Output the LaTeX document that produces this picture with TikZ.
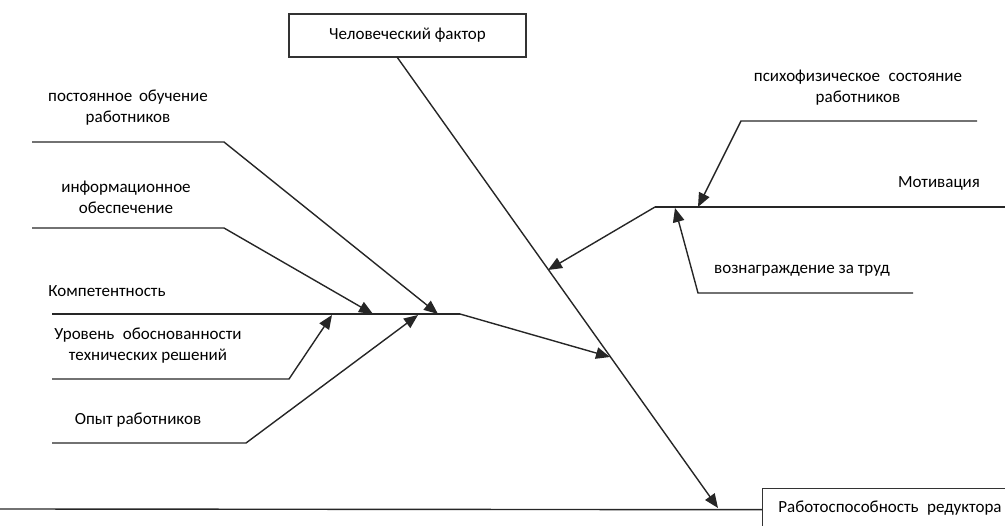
\documentclass[tikz,border=0pt]{standalone}
\usepackage{fontspec}
\setmainfont{Carlito}
\usetikzlibrary{arrows.meta}
\begin{document}
\begin{tikzpicture}[x=1pt,y=-1pt,
  line/.style={line width=1.4pt, draw=black!85},
  arr/.style={line, -{Triangle[length=14pt,width=11.5pt]}},
  lbl/.style={font=\fontsize{17}{21}\selectfont, inner sep=0pt, align=center},
  boxnode/.style={draw=black!80, line width=1.4pt, inner sep=0pt}]
\useasboundingbox (0,0) rectangle (1005,526);
\clip (0,0) rectangle (1005,526);

% head and effect boxes
\node[boxnode, lbl, minimum width=237pt, minimum height=43pt] (hf) at (407.5,35.5) {Человеческий фактор};
\node[boxnode, anchor=north west, minimum width=260pt, minimum height=42pt] (rr) at (762,488) {};
\node[lbl] (rrt) at (890,508) {Работоспособность\hspace{0.5em}редуктора};

% main spine
\coordinate (m0) at (397,57);
\coordinate (m1) at (718,508);
\draw[arr] (m0) -- (m1);
\coordinate (b0) at (0,509);
\draw[line] (b0) -- (rr.west);

% left branch: competence
\coordinate (k0) at (52,314);
\coordinate (k1) at (460,314);
\coordinate (k2) at (610,357);
\draw[line] (k0) -- (k1);
\draw[arr] (k1) -- (k2);
\node[lbl] (kt) at (107,291) {Компетентность};

\coordinate (p0) at (32,142);
\coordinate (p1) at (224,142);
\coordinate (p2) at (438,314);
\draw[arr] (p0) -- (p1) -- (p2);
\node[lbl] (pt) at (128,108) {постоянное\hspace{0.4em}обучение\\работников};

\coordinate (i0) at (32,228);
\coordinate (i1) at (224,228);
\coordinate (i2) at (373,314);
\draw[arr] (i0) -- (i1) -- (i2);
\node[lbl] (it) at (126,197) {информационное\\обеспечение};

\coordinate (u0) at (52,379);
\coordinate (u1) at (289,379);
\coordinate (u2) at (332,315);
\draw[arr] (u0) -- (u1) -- (u2);
\node[lbl] (ut) at (148,345.5) {Уровень\hspace{0.5em}обоснованности\\технических решений};

\coordinate (o0) at (52,443);
\coordinate (o1) at (246,443);
\coordinate (o2) at (418,315);
\draw[arr] (o0) -- (o1) -- (o2);
\node[lbl] (ot) at (138,420) {Опыт работников};

% right branch: motivation
\coordinate (mv0) at (1005,207);
\coordinate (mv1) at (655,207);
\coordinate (mv2) at (548,270);
\draw[line] (mv0) -- (mv1);
\draw[arr] (mv1) -- (mv2);
\node[lbl] (mvt) at (939,183) {Мотивация};

\coordinate (ps0) at (977,121);
\coordinate (ps1) at (741,121);
\coordinate (ps2) at (698,207);
\draw[arr] (ps0) -- (ps1) -- (ps2);
\node[lbl] (pst) at (858,88) {психофизическое\hspace{0.5em}состояние\\работников};

\coordinate (v0) at (913,293);
\coordinate (v1) at (698,293);
\coordinate (v2) at (675,208);
\draw[arr] (v0) -- (v1) -- (v2);
\node[lbl] (vt) at (802,271) {вознаграждение за труд};
\end{tikzpicture}
\end{document}
